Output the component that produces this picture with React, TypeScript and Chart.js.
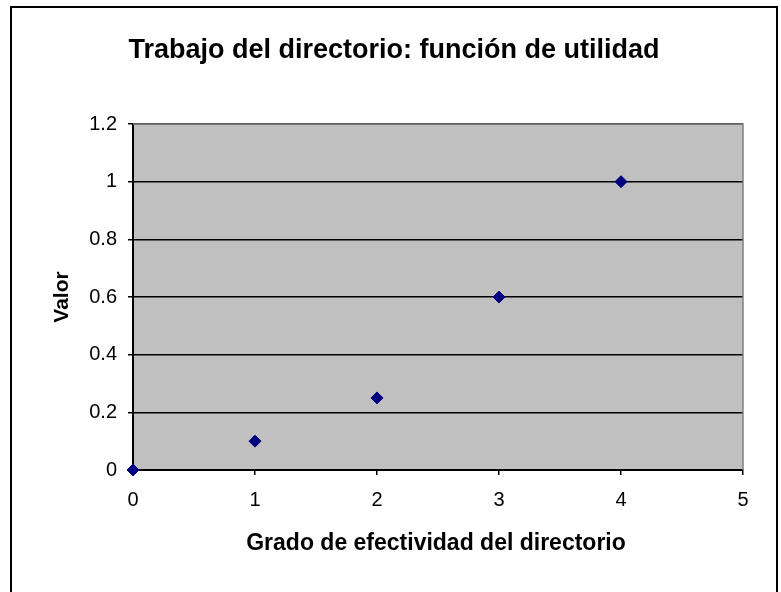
import React, { useEffect, useRef } from "react";
import { Chart, registerables } from "chart.js";

Chart.register(...registerables);

const chartTitle = "Trabajo del directorio: función de utilidad";
const xAxisTitle = "Grado de efectividad del directorio";
const yAxisTitle = "Valor";
const xValues = [0, 1, 2, 3, 4];
const yValues = [0, 0.1, 0.25, 0.6, 1];
const xMin = 0;
const xMax = 5;
const xStep = 1;
const yMin = 0;
const yMax = 1.2;
const yStep = 0.2;

const FONT = "'Liberation Sans', Arial, sans-serif";

const frame = {
  id: "frame",
  beforeDraw(chart: any) {
    const { ctx, chartArea } = chart;
    ctx.save();
    ctx.fillStyle = "#ffffff";
    ctx.fillRect(0, 0, chart.width, chart.height);
    ctx.fillStyle = "#000000";
    ctx.fillRect(10, 6, 768, 2);
    ctx.fillRect(10, 6, 2, 600);
    ctx.fillRect(776, 6, 2, 600);
    ctx.fillStyle = "#c0c0c0";
    ctx.fillRect(
      chartArea.left,
      chartArea.top,
      chartArea.right - chartArea.left,
      chartArea.bottom - chartArea.top
    );
    ctx.restore();
  },
  beforeDatasetsDraw(chart: any) {
    const { ctx, chartArea } = chart;
    ctx.save();
    ctx.strokeStyle = "#808080";
    ctx.lineWidth = 1.5;
    ctx.beginPath();
    ctx.moveTo(chartArea.left, chartArea.top);
    ctx.lineTo(chartArea.right, chartArea.top);
    ctx.lineTo(chartArea.right, chartArea.bottom);
    ctx.stroke();
    ctx.restore();
  },
  afterDraw(chart: any) {
    const { ctx, chartArea } = chart;
    ctx.save();
    ctx.fillStyle = "#000";
    ctx.textAlign = "center";
    ctx.textBaseline = "middle";
    ctx.font = `bold 27px ${FONT}`;
    ctx.fillText(chartTitle, 394, 51);
    ctx.font = `bold 23px ${FONT}`;
    ctx.fillText(xAxisTitle, (chartArea.left + chartArea.right) / 2 - 2, 544);
    ctx.restore();
  },
};

export default function App() {
  const ref = useRef<HTMLCanvasElement | null>(null);

  useEffect(() => {
    document.body.style.margin = "0";
    if (!ref.current) return;
    const chart = new Chart(ref.current, {
      type: "scatter",
      data: {
        datasets: [
          {
            label: "Valor",
            data: xValues.map((x, i) => ({ x, y: yValues[i] })),
            pointStyle: "rectRot",
            pointRadius: 6,
            pointBorderWidth: 1,
            backgroundColor: "#000080",
            borderColor: "#000080",
            showLine: false,
            clip: false,
          },
        ],
      },
      options: {
        responsive: false,
        animation: false,
        devicePixelRatio: 1,
        layout: { padding: { left: 0, right: 38, top: 124, bottom: 0 } },
        plugins: {
          legend: { display: false },
          tooltip: { enabled: false },
          title: { display: false },
        },
        scales: {
          x: {
            type: "linear",
            min: xMin,
            max: xMax,
            afterFit(scale: any) {
              scale.height = 122;
            },
            ticks: {
              stepSize: xStep,
              color: "#000",
              font: { family: FONT, size: 20 },
              padding: 13,
              maxRotation: 0,
            },
            grid: {
              drawOnChartArea: false,
              drawTicks: true,
              tickLength: 5,
              color: "#000",
              lineWidth: 1.5,
            },
            border: { display: true, color: "#000", width: 2 },
            title: { display: false },
          },
          y: {
            type: "linear",
            min: yMin,
            max: yMax,
            afterFit(scale: any) {
              scale.width = 133;
            },
            ticks: {
              stepSize: yStep,
              color: "#000",
              font: { family: FONT, size: 20 },
              padding: 11,
              callback: (v: any) => String(parseFloat(Number(v).toFixed(1))),
            },
            grid: {
              drawOnChartArea: true,
              drawTicks: true,
              tickLength: 5,
              color: "#000",
              lineWidth: 1.5,
            },
            border: { display: true, color: "#000", width: 2 },
            title: {
              display: true,
              text: yAxisTitle,
              color: "#000",
              font: { family: FONT, size: 21, weight: "bold", lineHeight: 1.2 },
              padding: { top: 50, bottom: 0 },
            },
          },
        },
      },
      plugins: [frame],
    });
    return () => chart.destroy();
  }, []);

  return <canvas ref={ref} width={781} height={592} style={{ display: "block" }} />;
}
